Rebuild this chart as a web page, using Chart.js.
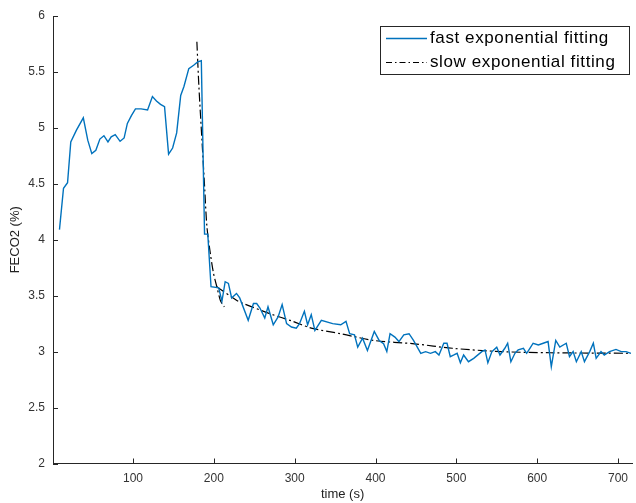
<!DOCTYPE html>
<html>
<head>
<meta charset="utf-8">
<script src="https://cdn.jsdelivr.net/npm/chart.js@4.4.1/dist/chart.umd.min.js"></script>
<style>
  html, body { margin: 0; padding: 0; background: #fff; }
  #js-chart-feco2 { display: block; }
</style>
</head>
<body>
<canvas id="js-chart-feco2" width="636" height="503"></canvas>
<script>
// Measured FECO2 trace (time in s, value in %)
const dataTime = [9, 14, 19, 23, 30, 38.5, 44, 49, 54, 59, 64, 69, 73, 78, 84, 89, 93, 98, 103, 110,
  118, 124, 129, 134, 139, 144, 149, 154, 159, 163, 169, 175, 180, 184.5, 188.5, 192.5, 196.5, 206, 210, 214,
  218, 222, 228, 232, 242.5, 249, 253, 257, 263, 267, 273.5, 279.5, 284.5, 290, 296, 302, 306, 312, 316, 320.5,
  325, 333, 347, 357, 363.5, 368, 374, 378, 384, 390, 394, 398.5, 404.5, 410, 414, 418, 424, 429, 435, 441.5,
  447, 456, 462, 468, 474, 478.5, 484.5, 488.5, 492.5, 497, 501, 505, 509, 515, 521.5, 531.5, 535.5, 539, 544, 550,
  554, 560, 563.5, 567.5, 572.5, 576.5, 583, 587, 591, 595, 601.5, 607.5, 613.5, 617.5, 623, 628, 636, 640,
  644.5, 648.5, 654.5, 658.5, 665, 669.5, 673, 679, 683, 689.5, 697.5, 704, 710, 716];
const dataFeco2 = [4.09, 4.46, 4.51, 4.875, 4.98, 5.09, 4.89, 4.77, 4.80, 4.90, 4.93, 4.875, 4.92, 4.94, 4.88, 4.91, 5.04, 5.11, 5.17, 5.17,
  5.16, 5.28, 5.24, 5.21, 5.19, 4.765, 4.82, 4.955, 5.29, 5.37, 5.53, 5.56, 5.59, 5.60, 4.05, 4.05, 3.58, 3.57, 3.45, 3.625,
  3.61, 3.48, 3.52, 3.48, 3.28, 3.43, 3.43, 3.39, 3.30, 3.40, 3.24, 3.31, 3.42, 3.25, 3.22, 3.21, 3.25, 3.36, 3.24, 3.33,
  3.19, 3.28, 3.25, 3.24, 3.27, 3.16, 3.15, 3.04, 3.12, 3.01, 3.09, 3.18, 3.10, 3.07, 3.00, 3.16, 3.13, 3.09, 3.15, 3.16,
  3.10, 2.985, 3.00, 2.985, 3.00, 2.97, 3.075, 3.075, 2.955, 2.97, 2.985, 2.90, 2.97, 2.91, 2.94, 3.00, 3.015, 2.90, 3.00, 3.04,
  2.97, 3.03, 3.075, 2.91, 2.985, 3.015, 3.03, 2.985, 3.03, 3.075, 3.06, 3.075, 3.09, 2.865, 3.10, 3.04, 3.075, 2.955,
  3.00, 2.91, 3.00, 2.91, 3.00, 3.075, 2.94, 3.00, 2.97, 3.00, 3.02, 3.00, 3.00, 2.985];

// Fast exponential fit (steep drop after the peak)
const fastFitTime = [179, 181.5, 185.2, 188.6, 191.4, 195.6, 199.6, 203.7, 207.9, 210, 213];
const fastFitValue = [5.77, 5.37, 4.90, 4.47, 4.12, 3.88, 3.70, 3.58, 3.46, 3.43, 3.40];

// Slow exponential fit (tail)
const slowFitTime = [203.5, 228, 236.5, 269, 298, 320.5, 357, 398, 448, 495, 556, 616, 716];
const slowFitValue = [3.58, 3.46, 3.43, 3.34, 3.27, 3.21, 3.16, 3.10, 3.07, 3.03, 3.00, 2.99, 2.985];

// Axis ticks
const xTicks = [100, 200, 300, 400, 500, 600, 700];
const yTicks = [2, 2.5, 3, 3.5, 4, 4.5, 5, 5.5, 6];

const legendLabels = ['fast exponential fitting', 'slow exponential fitting'];

const toPoints = (xs, ys) => xs.map((x, i) => ({x: x, y: ys[i]}));

const blue = '#0072BD';
const axisColor = '#262626';
const dashDot = [9, 3, 2, 3];

// Inward ticks and the boxed legend, drawn the MATLAB way
const matlabLook = {
  id: 'matlabLook',
  afterDraw(chart) {
    const ctx = chart.ctx;
    const area = chart.chartArea;
    const xs = chart.scales.x;
    const ys = chart.scales.y;

    ctx.save();
    ctx.strokeStyle = axisColor;
    ctx.lineWidth = 1;
    xTicks.forEach(v => {
      const px = Math.round(xs.getPixelForValue(v)) + 0.5;
      ctx.beginPath();
      ctx.moveTo(px, area.bottom);
      ctx.lineTo(px, area.bottom - 5);
      ctx.stroke();
    });
    yTicks.forEach(v => {
      const py = Math.round(ys.getPixelForValue(v)) + 0.5;
      ctx.beginPath();
      ctx.moveTo(area.left, py);
      ctx.lineTo(area.left + 5, py);
      ctx.stroke();
    });

    // Legend box
    const bx = 380.5, by = 26.5, bw = 249, bh = 48;
    ctx.fillStyle = '#fff';
    ctx.fillRect(bx, by, bw, bh);
    ctx.strokeStyle = axisColor;
    ctx.lineWidth = 1;
    ctx.strokeRect(bx, by, bw, bh);

    const rows = [38.5, 62.5];
    const styles = [
      {color: blue, dash: [], width: 1.4},
      {color: '#000', dash: [6, 3, 1.5, 3], width: 1.2}
    ];
    rows.forEach((ry, i) => {
      ctx.beginPath();
      ctx.setLineDash(styles[i].dash);
      ctx.strokeStyle = styles[i].color;
      ctx.lineWidth = styles[i].width;
      ctx.moveTo(386, ry);
      ctx.lineTo(427, ry);
      ctx.stroke();
      ctx.setLineDash([]);
      ctx.fillStyle = '#000';
      ctx.font = '17px "Liberation Sans", Arial, sans-serif';
      ctx.letterSpacing = '0.6px';
      ctx.textBaseline = 'middle';
      ctx.textAlign = 'left';
      ctx.fillText(legendLabels[i], 430, ry);
    });
    ctx.restore();
  }
};

const chartData = {
  datasets: [
    {
      label: legendLabels[0],
      data: toPoints(dataTime, dataFeco2),
      borderColor: blue,
      borderWidth: 1.4,
      pointRadius: 0,
      tension: 0
    },
    {
      label: 'fast fit',
      data: toPoints(fastFitTime, fastFitValue),
      borderColor: '#000',
      borderWidth: 1.2,
      borderDash: dashDot,
      pointRadius: 0,
      tension: 0.3
    },
    {
      label: legendLabels[1],
      data: toPoints(slowFitTime, slowFitValue),
      borderColor: '#000',
      borderWidth: 1.2,
      borderDash: dashDot,
      pointRadius: 0,
      tension: 0.3
    }
  ]
};

const tickFont = {family: '"Liberation Sans", Arial, sans-serif', size: 12};
const titleFont = {family: '"Liberation Sans", Arial, sans-serif', size: 13};

const chartOptions = {
  responsive: false,
  animation: false,
  devicePixelRatio: 1,
  layout: {padding: {top: 16, right: 0, bottom: 0, left: 0}},
  plugins: {
    legend: {display: false},
    tooltip: {enabled: false}
  },
  scales: {
    x: {
      type: 'linear',
      min: 1,
      max: 717.5,
      grid: {display: false, drawTicks: false},
      border: {display: true, color: axisColor, width: 1},
      ticks: {color: '#333', font: tickFont, padding: 8, maxRotation: 0, callback: v => String(v)},
      afterBuildTicks: scale => { scale.ticks = xTicks.map(v => ({value: v})); },
      afterFit: scale => { scale.height = 39.5; },
      title: {display: true, text: 'time (s)', color: '#222', font: titleFont, padding: {top: 0, bottom: 1}}
    },
    y: {
      type: 'linear',
      min: 2,
      max: 6,
      grid: {display: false, drawTicks: false},
      border: {display: true, color: axisColor, width: 1},
      ticks: {color: '#333', font: tickFont, padding: 8, callback: v => String(v)},
      afterBuildTicks: scale => { scale.ticks = yTicks.map(v => ({value: v})); },
      afterFit: scale => { scale.width = 53; },
      title: {display: true, text: 'FECO2 (%)', color: '#222', font: titleFont, padding: {top: 8, bottom: 0}}
    }
  }
};

let chartCon = document.getElementById('js-chart-feco2');
let chartFeco2 = new Chart(chartCon, {type: 'line', data: chartData, options: chartOptions, plugins: [matlabLook]});
</script>
</body>
</html>
